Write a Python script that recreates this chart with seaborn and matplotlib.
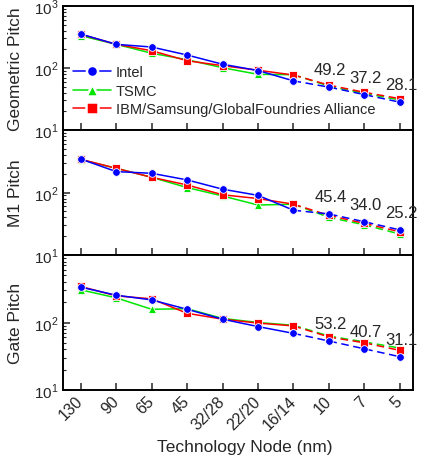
"""
Interconnect / gate pitch scaling by technology node
Three stacked log-scale panels (geometric, M1, gate pitch)
"""

import numpy as np
import pandas as pd
import matplotlib
matplotlib.use('Agg')
import matplotlib.pyplot as plt
import seaborn as sns
from matplotlib.ticker import LogLocator, NullFormatter

# node labels along the x axis
nodes = ['130', '90', '65', '45', '32/28', '22/20', '16/14', '10', '7', '5']

# geometric pitch (nm)
geo_intel = [353, 241, 218, 162, 115, 91, 62, 49.2, 37.2, 28.1]
geo_tsmc = [332, 241, 173, 136, 101, 79, 78, 51.0, 39.0, 30.5]
geo_alliance = [349, 241, 190, 131, 109, 92, 77, 53.0, 40.5, 32.0]

# M1 pitch (nm)
m1_intel = [343, 216, 203, 159, 113, 90, 52, 45.4, 34.0, 25.2]
m1_tsmc = [335, 244, 175, 120, 88, 63, 65, 40.0, 30.4, 21.6]
m1_alliance = [340, 244, 175, 132, 92, 80, 65, 43.0, 32.0, 23.5]

# gate pitch (nm)
gate_intel = [334, 254, 216, 157, 112, 87, 69, 53.2, 40.7, 31.1]
gate_tsmc = [305, 232, 157, 160, 115, 100, 91, 63.0, 51.5, 41.8]
gate_alliance = [342, 248, 224, 137, 112, 98, 89, 61.0, 50.0, 38.6]

companies = ['TSMC', 'IBM/Samsung/GlobalFoundries Alliance', 'Intel']
colors = {'Intel': '#0000ff', 'TSMC': '#00e600', 'IBM/Samsung/GlobalFoundries Alliance': '#ff0000'}
markers = {'Intel': 'o', 'TSMC': '^', 'IBM/Samsung/GlobalFoundries Alliance': 's'}
legend_order = ['Intel', 'TSMC', 'IBM/Samsung/GlobalFoundries Alliance']

panels = [
    ('Geometric Pitch', {'Intel': geo_intel, 'TSMC': geo_tsmc,
                         'IBM/Samsung/GlobalFoundries Alliance': geo_alliance}),
    ('M1 Pitch', {'Intel': m1_intel, 'TSMC': m1_tsmc,
                  'IBM/Samsung/GlobalFoundries Alliance': m1_alliance}),
    ('Gate Pitch', {'Intel': gate_intel, 'TSMC': gate_tsmc,
                    'IBM/Samsung/GlobalFoundries Alliance': gate_alliance}),
]

sns.set_style('ticks')
plt.rcParams['font.family'] = ['Liberation Sans', 'DejaVu Sans']
plt.rcParams['mathtext.fontset'] = 'custom'
plt.rcParams['mathtext.rm'] = 'Liberation Sans'

W, H = 421, 456
fig = plt.figure(figsize=(W / 100, H / 100), dpi=100)

# panel boxes in pixels (top, bottom) measured from the top edge
boxes = [(7, 131), (131, 256), (256, 391)]
left_px, right_px = 63, 413

pos = np.arange(len(nodes))
split = nodes.index('16/14')

axes = []
for (top, bot), (ylabel, data) in zip(boxes, panels):
    ax = fig.add_axes([left_px / W, (H - bot) / H, (right_px - left_px) / W, (bot - top) / H])
    axes.append(ax)
    for name in companies:
        vals = data[name]
        solid = pd.DataFrame({'x': pos[:split + 1], 'y': vals[:split + 1]})
        dash = pd.DataFrame({'x': pos[split:], 'y': vals[split:]})
        common = dict(color=colors[name], marker=markers[name], markersize=5.5,
                      linewidth=1.1, mew=0.6, mec='white', ax=ax)
        sns.lineplot(data=solid, x='x', y='y', label=name, **common)
        sns.lineplot(data=dash, x='x', y='y', linestyle=(0, (5, 3)), **common)

    # Intel projections written above the points
    for i in range(split + 1, len(nodes)):
        ax.annotate(f'{data["Intel"][i]:.1f}', (pos[i], data['Intel'][i]),
                    xytext=(1, 7), textcoords='offset points',
                    ha='center', va='bottom', fontsize=12)

    ax.set_yscale('log')
    ax.set_ylim(10, 1000)
    ax.set_xlim(-0.5, 9.37)
    ax.yaxis.set_minor_locator(LogLocator(base=10, subs=np.arange(2, 10)))
    ax.yaxis.set_minor_formatter(NullFormatter())
    ax.set_yticks([10, 100, 1000])
    if ax is axes[0]:
        ax.set_yticklabels(['$10^1$', '$10^2$', '$10^3$'])
    else:
        ax.set_yticklabels(['$10^1$', '$10^2$', ''])
    ax.set_xticks(pos)
    ax.tick_params(axis='both', which='major', direction='in', length=5, width=1.1,
                   labelsize=11, top=False, right=False, pad=3)
    ax.tick_params(axis='y', which='minor', direction='in', length=2.5, width=0.8)
    for sp in ax.spines.values():
        sp.set_linewidth(1.4)
        sp.set_color('black')
        sp.set_visible(True)
    ax.set_ylabel(ylabel, fontsize=12.5)
    ax.yaxis.set_label_coords(-0.115, 0.5)
    ax.set_xlabel('')
    ax.get_legend().remove()

# only the bottom panel carries x labels
for ax in axes[:-1]:
    ax.set_xticklabels([])
axes[-1].set_xticklabels(nodes, rotation=45, ha='right', va='center',
                         rotation_mode='anchor', fontsize=11.5)
axes[-1].tick_params(axis='x', pad=6)
axes[-1].set_xlabel('Technology Node (nm)', fontsize=12.5)
axes[-1].xaxis.set_label_coords(0.52, -0.36)

# legend in the top panel
handles, labels = axes[0].get_legend_handles_labels()
lookup = dict(zip(labels, handles))
leg = axes[0].legend([lookup[n] for n in legend_order], legend_order, loc='lower left',
                     bbox_to_anchor=(0.0, 0.03), frameon=False, fontsize=10.5,
                     handlelength=2.6, labelspacing=0.3, handletextpad=0.3,
                     borderaxespad=0.3)
for line in leg.get_lines():
    line.set_markeredgewidth(1.8)
    line.set_markersize(8)

fig.savefig('out.png', dpi=100)
plt.close(fig)
